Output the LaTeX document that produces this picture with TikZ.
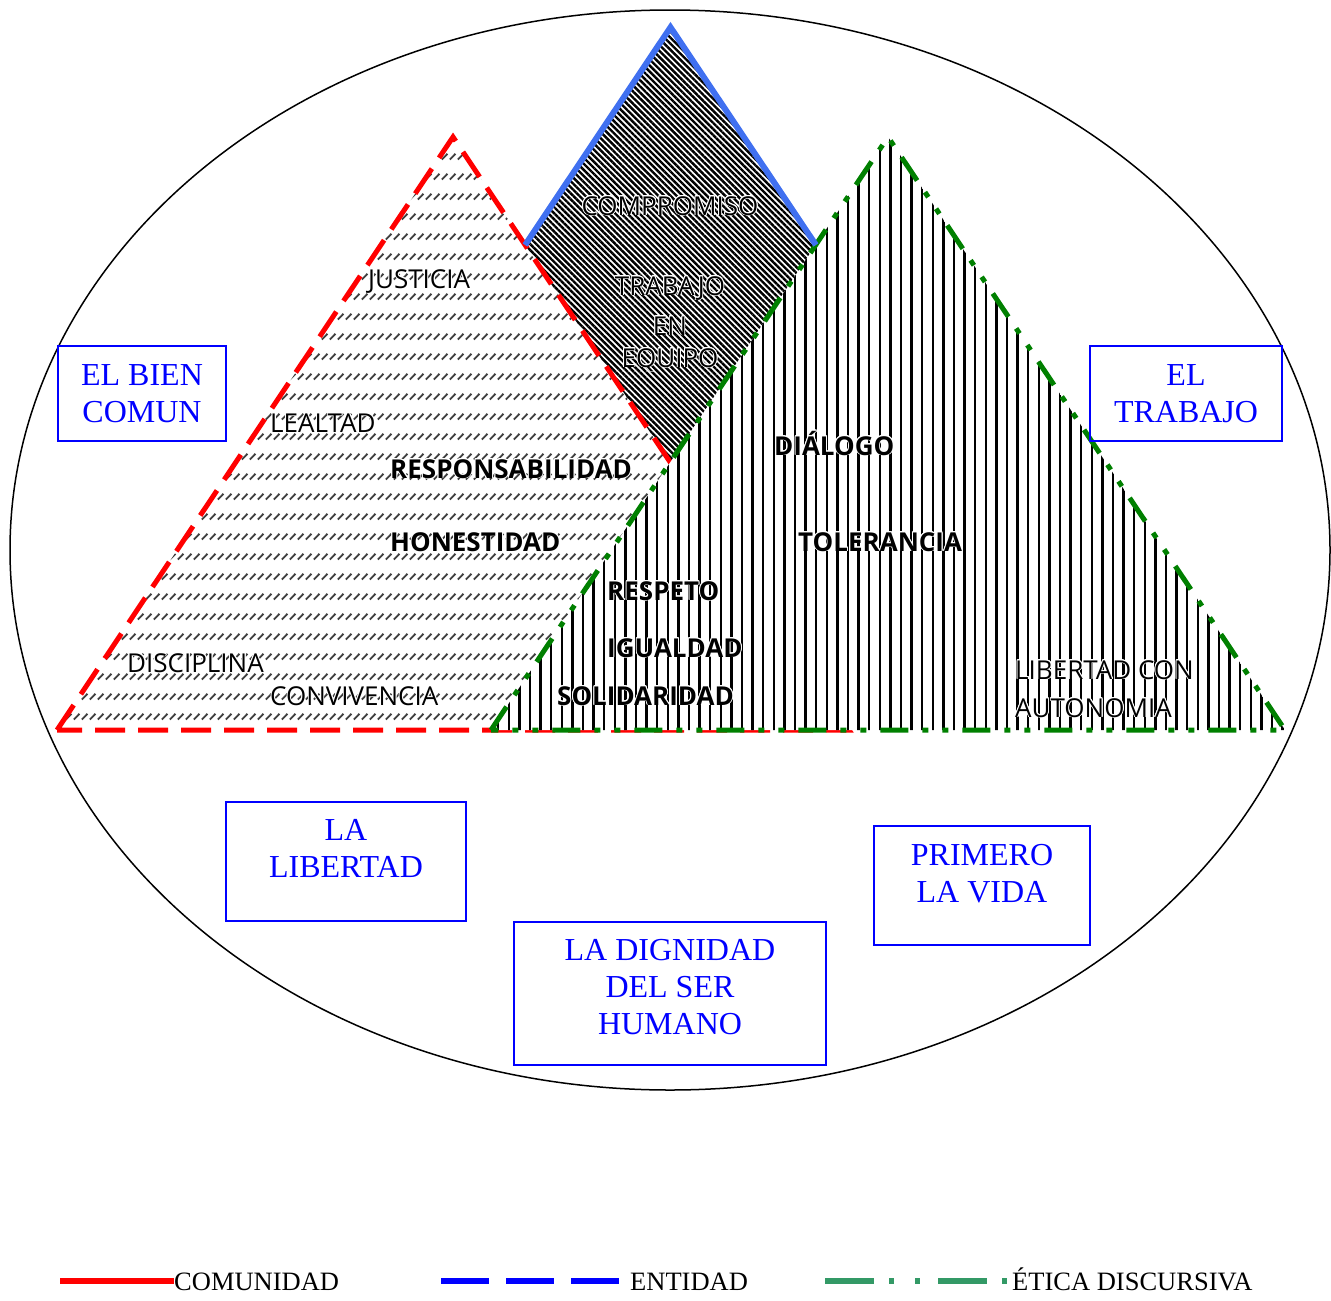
\documentclass[tikz,border=0pt]{standalone}
\usepackage{fontspec}
\setmainfont{Liberation Serif}
\newfontfamily\valfont{Open Sans}
\usepackage{contour}
\contourlength{0.8pt}
\usepackage{tikz}
\usetikzlibrary{positioning,patterns,patterns.meta}

\definecolor{ticagreen}{RGB}{0,128,0}
\definecolor{legendgreen}{RGB}{51,153,102}
\definecolor{rombblue}{RGB}{64,112,240}

\tikzdeclarepattern{
  name=dashrows,
  type=uncolored,
  tile size={(8.3pt,20pt)},
  bottom left={(0pt,0pt)},
  top right={(8.3pt,20pt)},
  code={\draw[line width=2pt] (0.9pt,1.5pt) -- (7pt,7.5pt);}
}

\newcommand{\val}[1]{\contour{white}{#1}}

\begin{document}
\begin{tikzpicture}[x=1pt,y=-1pt,
  redline/.style={red,line width=5pt,dash pattern=on 30pt off 13pt},
  greenline/.style={ticagreen,line width=5pt,dash pattern=on 28pt off 14pt on 6pt off 14pt on 6pt off 14pt},
  blueline/.style={rombblue,line width=6pt},
  redhatch/.style={preaction={fill=white},pattern=dashrows,pattern color=black!75},
  greenhatch/.style={preaction={fill=white},pattern={Lines[angle=90,distance=10.6pt,line width=2.5pt]}},
  rombhatch/.style={preaction={fill=white},pattern={Lines[angle=-45,distance=4.3pt,line width=2.4pt]}},
  word/.style={font=\valfont\fontsize{26}{30}\selectfont,inner sep=0pt,anchor=base west},
  boldword/.style={word,font=\valfont\bfseries\fontsize{26}{30}\selectfont},
  bluebox/.style={draw=blue,line width=1.3pt,inner sep=0pt},
  bluetext/.style={text=blue,font=\fontsize{32}{37}\selectfont,align=center,inner sep=0pt},
  legendtext/.style={font=\fontsize{26.5}{30}\selectfont,inner sep=0pt,anchor=base west}]
  \useasboundingbox (0,0) rectangle (1331,1301);

  \draw[line width=1.5pt] (670,550) ellipse [x radius=660pt,y radius=540pt];

  \coordinate (rL) at (57,730);
  \coordinate (rT) at (453,137);
  \coordinate (rR) at (849,730);
  \coordinate (gL) at (491,730);
  \coordinate (gT) at (888,137);
  \coordinate (gR) at (1285,730);
  \coordinate (dL) at (525.1,245);
  \coordinate (dT) at (670.5,27.3);
  \coordinate (dR) at (815.9,245);
  \coordinate (dB) at (670.5,462.7);

  \path[redhatch] (rL) -- (rT) -- (rR) -- cycle;
  \path[rombhatch] (dL) -- (dT) -- (dR) -- (dB) -- cycle;
  \draw[redline] (rL) -- (rT) -- (rR) -- cycle;
  \path[greenhatch] (gL) -- (gT) -- (gR) -- cycle;
  \draw[greenline] (gL) -- (gT) -- (gR) -- cycle;
  \draw[blueline] (dL) -- (dT) -- (dR);

  \node[word,anchor=base] (compromiso) at (670,215) {\val{COMPROMISO}};
  \node[word,anchor=base] (trabajo) at (670,295) {\val{TRABAJO}};
  \node[word,anchor=base] (en) at (670,335) {\val{EN}};
  \node[word,anchor=base] (equipo) at (670,367) {\val{EQUIPO}};
  \node[word] (justicia) at (368,288) {\val{JUSTICIA}};
  \node[word] (lealtad) at (270,432) {\val{LEALTAD}};
  \node[boldword] (responsabilidad) at (390,478) {\val{RESPONSABILIDAD}};
  \node[boldword] (honestidad) at (390,551) {\val{HONESTIDAD}};
  \node[word] (disciplina) at (127,672) {\val{DISCIPLINA}};
  \node[word] (convivencia) at (270,705) {\val{CONVIVENCIA}};
  \node[boldword] (dialogo) at (774,455) {\val{DIÁLOGO}};
  \node[boldword] (tolerancia) at (798,551) {\val{TOLERANCIA}};
  \node[boldword] (respeto) at (607,600) {\val{RESPETO}};
  \node[boldword] (igualdad) at (607,657) {\val{IGUALDAD}};
  \node[boldword] (solidaridad) at (557,705) {\val{SOLIDARIDAD}};
  \node[word] (libertadcon) at (1015,679) {\val{LIBERTAD CON}};
  \node[word] (autonomia) at (1015,717) {\val{AUTONOMIA}};

  \node[bluebox,minimum width=168pt,minimum height=95pt] (bienBox) at (142,393.5) {};
  \node[bluetext,below=19pt of bienBox.north] (bien) {EL BIEN\\COMUN};
  \node[bluebox,minimum width=192pt,minimum height=95pt] (trabajoBox) at (1186,393.5) {};
  \node[bluetext,below=19pt of trabajoBox.north] (eltrabajo) {EL\\TRABAJO};
  \node[bluebox,minimum width=240pt,minimum height=119pt] (libertadBox) at (346,861.5) {};
  \node[bluetext,below=18pt of libertadBox.north] (libertad) {LA\\LIBERTAD};
  \node[bluebox,minimum width=216pt,minimum height=119pt] (vidaBox) at (982,885.5) {};
  \node[bluetext,below=19pt of vidaBox.north] (vida) {PRIMERO\\LA VIDA};
  \node[bluebox,minimum width=312pt,minimum height=143pt] (dignidadBox) at (670,993.5) {};
  \node[bluetext,below=18pt of dignidadBox.north] (dignidad) {LA DIGNIDAD\\DEL SER\\HUMANO};

  \draw[red,line width=6pt] (60,1281) -- (174,1281);
  \node[legendtext] (comunidad) at (174,1290) {COMUNIDAD};
  \draw[blue,line width=6pt,dash pattern=on 48pt off 17pt] (441,1281) -- (620,1281);
  \node[legendtext] (entidad) at (630,1290) {ENTIDAD};
  \draw[legendgreen,line width=6pt,dash pattern=on 49pt off 15pt on 5pt off 21pt on 5pt off 18pt] (825,1281) -- (1011,1281);
  \node[legendtext] (etica) at (1012,1290) {ÉTICA DISCURSIVA};
\end{tikzpicture}
\end{document}
